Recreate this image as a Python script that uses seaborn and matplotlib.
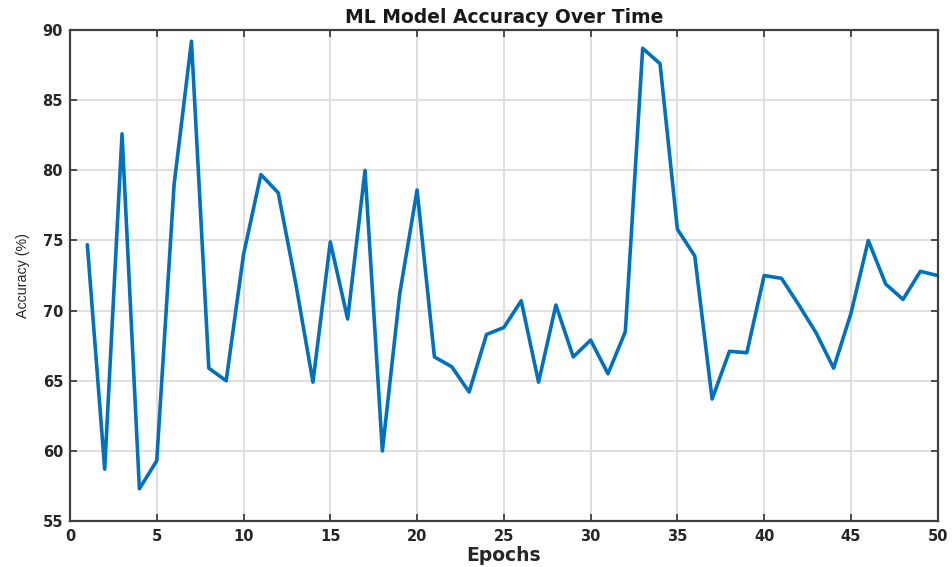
import matplotlib
matplotlib.use("Agg")
import matplotlib.pyplot as plt
import seaborn as sns
import pandas as pd

epochs = list(range(1, 51))
accuracy = [74.7, 58.7, 82.6, 57.3, 59.3, 79.0, 89.2, 65.9, 65.0, 74.0,
            79.7, 78.4, 72.0, 64.9, 74.9, 69.4, 80.0, 60.0, 71.2, 78.6,
            66.7, 66.0, 64.2, 68.3, 68.8, 70.7, 64.9, 70.4, 66.7, 67.9,
            65.5, 68.5, 88.7, 87.6, 75.8, 73.9, 63.7, 67.1, 67.0, 72.5,
            72.3, 70.4, 68.4, 65.9, 69.8, 75.0, 71.9, 70.8, 72.8, 72.5]
x_ticks = [0, 5, 10, 15, 20, 25, 30, 35, 40, 45, 50]
y_ticks = [55, 60, 65, 70, 75, 80, 85, 90]

sns.set_theme(style="white")
plt.rcParams['font.family'] = ['DejaVu Sans']

df = pd.DataFrame({"Epochs": epochs, "Accuracy": accuracy})

fig = plt.figure(figsize=(9.52, 5.67), dpi=100)
ax = fig.add_axes([0.0735, 0.081, 0.9115, 0.866])
sns.lineplot(data=df, x="Epochs", y="Accuracy", ax=ax, color="#0072BD",
             linewidth=2.6)

ax.set_xlim(0, 50)
ax.set_ylim(55, 90)
ax.set_xticks(x_ticks)
ax.set_yticks(y_ticks)
ax.grid(True, color="#dcdcdc", linewidth=1.3)
ax.set_axisbelow(True)
for s in ax.spines.values():
    s.set_color("#404040")
    s.set_linewidth(1.6)
ax.tick_params(direction="in", length=5, width=1.3, color="#404040",
               top=True, right=True, bottom=True, left=True,
               labelsize=10.5, labelcolor="#262626")
ax.tick_params(axis="x", pad=6)
ax.tick_params(axis="y", pad=5)
for lab in ax.get_xticklabels() + ax.get_yticklabels():
    lab.set_fontweight("bold")

ax.set_title("ML Model Accuracy Over Time", fontsize=13.5, fontweight="bold",
             color="#1a1a1a", pad=5)
ax.set_xlabel("Epochs", fontsize=13.5, fontweight="bold", color="#262626", labelpad=1)
ax.set_ylabel("Accuracy (%)", fontsize=10.3, color="#262626", labelpad=9,
              family="Liberation Sans")

fig.savefig("out.png", dpi=100)
